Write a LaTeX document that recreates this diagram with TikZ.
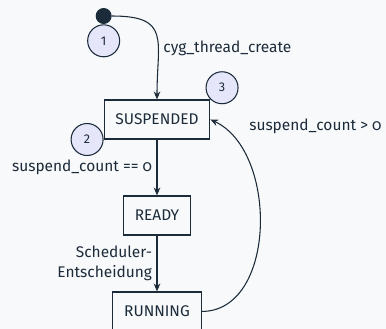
\documentclass[tikz,border=0pt]{standalone}
\usepackage{fontspec}
\setmainfont{Fira Sans}[Numbers=OldStyle]
\usepackage{xcolor}
\usepackage{tikz}
\usetikzlibrary{positioning,arrows.meta}
\definecolor{garis}{HTML}{1C2B3A}
\definecolor{latar}{HTML}{F8F9FA}
\definecolor{ungu}{HTML}{E6E6FA}

\begin{document}
\begin{tikzpicture}[node distance=72pt, color=garis,
    font=\fontsize{11.6}{15.5}\selectfont,
    keadaan/.style={draw, line width=0.8pt, minimum height=29.25pt, inner xsep=8.5pt},
    titik/.style={circle, fill=garis, minimum size=12pt, inner sep=0pt},
    lencana/.style={circle, draw, line width=0.8pt, fill=ungu, minimum size=24pt, inner sep=0pt,
      font=\fontsize{9.5}{11}\selectfont\addfontfeatures{Numbers=Lining}},
    panah/.style={-{Stealth[length=6pt,width=5pt,inset=2pt]}, line width=0.8pt}]
  % latar dan batas gambar
  \useasboundingbox [fill=latar] (-117.75pt,-157.1pt) rectangle (171.75pt,89.6pt);

  % node keadaan
  % \node nama [gaya] {teks};
  \node (suspended) [keadaan] {SUSPENDED};                 % posisi acuan
  \node (ready) [keadaan, below of=suspended] {READY};     % di bawah acuan
  \node (running) [keadaan, below of=ready] {RUNNING};     % di bawah sebelumnya
  \node (awal) [titik, above of=suspended, node distance=77.6pt, xshift=-40pt] {}; % titik mulai

  % lencana bernomor
  \node (satu) [lencana, below=0pt of awal] {1};
  \node (dua) [lencana, left=0pt of suspended.south west] {2};
  \node (tiga) [lencana, above right=0pt of suspended.north east] {3};

  % transisi
  \draw [panah] (awal.east) to[out=0, in=90, looseness=1.6]
    node (lbuat) [right, pos=0.64] {cyg\_thread\_create} (suspended.north);
  \draw [panah] (suspended) -- node (lnol) [left] {suspend\_count == 0} (ready);
  \draw [panah] (ready) -- node (ljadwal) [left, align=right] {Scheduler-\\Entscheidung} (running);
  \draw [panah] (running.east) to[out=0, in=-25]
    node (llebih) [above right, pos=0.85, xshift=6pt, yshift=2pt] {suspend\_count > 0} (suspended.east);
\end{tikzpicture}
\end{document}
